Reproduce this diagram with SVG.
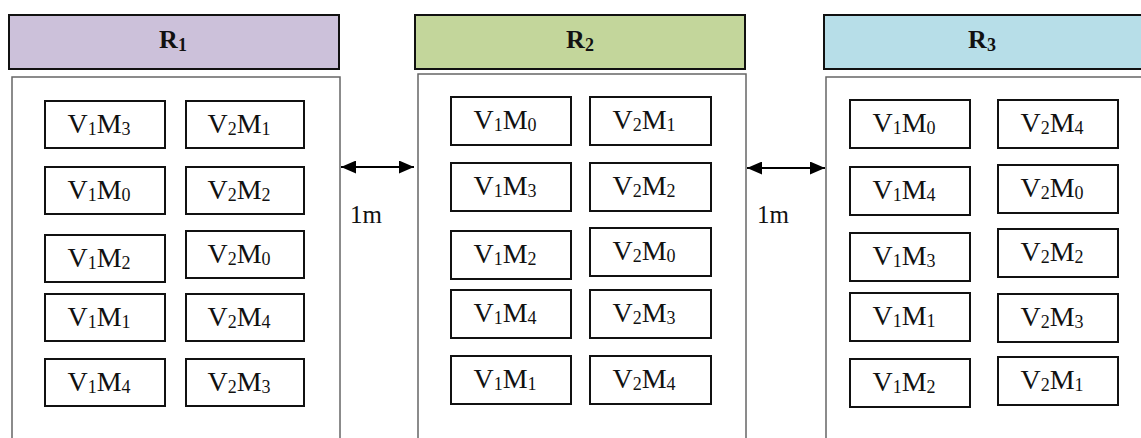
<svg xmlns="http://www.w3.org/2000/svg" width="1141" height="438" viewBox="0 0 1141 438">
<style>
.hdr{stroke:#111;stroke-width:2}
.cont{fill:#fff;stroke:#666;stroke-width:1.5}
.box{fill:#fff;stroke:#111;stroke-width:2}
.ht{font-family:"Liberation Serif",serif;font-weight:bold;font-size:26px;fill:#111;text-anchor:middle}
.bt{font-family:"Liberation Serif",serif;font-size:28px;fill:#111;text-anchor:middle}
.sub{font-size:18px}
.lbl{font-family:"Liberation Serif",serif;font-size:25px;fill:#111}
.conn{stroke:#000;stroke-width:2;fill:none}
</style>
<defs>
<marker id="ah" markerUnits="userSpaceOnUse" markerWidth="16" markerHeight="13" refX="15" refY="6.5" orient="auto-start-reverse">
<path d="M0,0 L15,6.5 L0,13 z" fill="#000"/>
</marker>
</defs>
<rect width="1141" height="438" fill="#fff"/>

<g id="R1">
<rect class="hdr" x="9" y="15" width="330" height="54" fill="#CCC1DA"/>
<text class="ht" x="173" y="48">R<tspan class="sub" dy="3">1</tspan></text>
<rect class="cont" x="12" y="77" width="328" height="380"/>
</g>
<g id="R2">
<rect class="hdr" x="415" y="15" width="330" height="54" fill="#C3D69B"/>
<text class="ht" x="580" y="48">R<tspan class="sub" dy="3">2</tspan></text>
<rect class="cont" x="418" y="74" width="328" height="380"/>
</g>
<g id="R3">
<rect class="hdr" x="824" y="15" width="330" height="54" fill="#B7DEE8"/>
<text class="ht" x="982" y="48">R<tspan class="sub" dy="3">3</tspan></text>
<rect class="cont" x="826" y="77" width="330" height="380"/>
</g>

<!-- R1 boxes -->
<g id="R1-V1M3"><rect class="box" x="45" y="101" width="120" height="47"/><text class="bt" x="99" y="133">V<tspan class="sub" dy="2">1</tspan><tspan dy="-2">M</tspan><tspan class="sub" dy="2">3</tspan></text></g>
<g id="R1-V2M1"><rect class="box" x="186" y="101" width="118" height="47"/><text class="bt" x="239" y="133">V<tspan class="sub" dy="2">2</tspan><tspan dy="-2">M</tspan><tspan class="sub" dy="2">1</tspan></text></g>
<g id="R1-V1M0"><rect class="box" x="45" y="167" width="120" height="47"/><text class="bt" x="99" y="199">V<tspan class="sub" dy="2">1</tspan><tspan dy="-2">M</tspan><tspan class="sub" dy="2">0</tspan></text></g>
<g id="R1-V2M2"><rect class="box" x="186" y="167" width="118" height="47"/><text class="bt" x="239" y="199">V<tspan class="sub" dy="2">2</tspan><tspan dy="-2">M</tspan><tspan class="sub" dy="2">2</tspan></text></g>
<g id="R1-V1M2"><rect class="box" x="45" y="235" width="120" height="47"/><text class="bt" x="99" y="267">V<tspan class="sub" dy="2">1</tspan><tspan dy="-2">M</tspan><tspan class="sub" dy="2">2</tspan></text></g>
<g id="R1-V2M0"><rect class="box" x="186" y="231" width="118" height="47"/><text class="bt" x="239" y="263">V<tspan class="sub" dy="2">2</tspan><tspan dy="-2">M</tspan><tspan class="sub" dy="2">0</tspan></text></g>
<g id="R1-V1M1"><rect class="box" x="45" y="294" width="120" height="47"/><text class="bt" x="99" y="326">V<tspan class="sub" dy="2">1</tspan><tspan dy="-2">M</tspan><tspan class="sub" dy="2">1</tspan></text></g>
<g id="R1-V2M4"><rect class="box" x="186" y="294" width="118" height="47"/><text class="bt" x="239" y="326">V<tspan class="sub" dy="2">2</tspan><tspan dy="-2">M</tspan><tspan class="sub" dy="2">4</tspan></text></g>
<g id="R1-V1M4"><rect class="box" x="45" y="359" width="120" height="47"/><text class="bt" x="99" y="391">V<tspan class="sub" dy="2">1</tspan><tspan dy="-2">M</tspan><tspan class="sub" dy="2">4</tspan></text></g>
<g id="R1-V2M3"><rect class="box" x="186" y="359" width="118" height="47"/><text class="bt" x="239" y="391">V<tspan class="sub" dy="2">2</tspan><tspan dy="-2">M</tspan><tspan class="sub" dy="2">3</tspan></text></g>

<!-- R2 boxes -->
<g id="R2-V1M0"><rect class="box" x="451" y="97" width="120" height="48"/><text class="bt" x="505" y="129">V<tspan class="sub" dy="2">1</tspan><tspan dy="-2">M</tspan><tspan class="sub" dy="2">0</tspan></text></g>
<g id="R2-V2M1"><rect class="box" x="590" y="97" width="121" height="48"/><text class="bt" x="644" y="129">V<tspan class="sub" dy="2">2</tspan><tspan dy="-2">M</tspan><tspan class="sub" dy="2">1</tspan></text></g>
<g id="R2-V1M3"><rect class="box" x="451" y="163" width="120" height="48"/><text class="bt" x="505" y="195">V<tspan class="sub" dy="2">1</tspan><tspan dy="-2">M</tspan><tspan class="sub" dy="2">3</tspan></text></g>
<g id="R2-V2M2"><rect class="box" x="590" y="163" width="121" height="48"/><text class="bt" x="644" y="195">V<tspan class="sub" dy="2">2</tspan><tspan dy="-2">M</tspan><tspan class="sub" dy="2">2</tspan></text></g>
<g id="R2-V1M2"><rect class="box" x="451" y="231" width="120" height="48"/><text class="bt" x="505" y="263">V<tspan class="sub" dy="2">1</tspan><tspan dy="-2">M</tspan><tspan class="sub" dy="2">2</tspan></text></g>
<g id="R2-V2M0"><rect class="box" x="590" y="228" width="121" height="48"/><text class="bt" x="644" y="260">V<tspan class="sub" dy="2">2</tspan><tspan dy="-2">M</tspan><tspan class="sub" dy="2">0</tspan></text></g>
<g id="R2-V1M4"><rect class="box" x="451" y="290" width="120" height="48"/><text class="bt" x="505" y="322">V<tspan class="sub" dy="2">1</tspan><tspan dy="-2">M</tspan><tspan class="sub" dy="2">4</tspan></text></g>
<g id="R2-V2M3"><rect class="box" x="590" y="290" width="121" height="48"/><text class="bt" x="644" y="322">V<tspan class="sub" dy="2">2</tspan><tspan dy="-2">M</tspan><tspan class="sub" dy="2">3</tspan></text></g>
<g id="R2-V1M1"><rect class="box" x="451" y="356" width="120" height="48"/><text class="bt" x="505" y="388">V<tspan class="sub" dy="2">1</tspan><tspan dy="-2">M</tspan><tspan class="sub" dy="2">1</tspan></text></g>
<g id="R2-V2M4"><rect class="box" x="590" y="356" width="121" height="48"/><text class="bt" x="644" y="388">V<tspan class="sub" dy="2">2</tspan><tspan dy="-2">M</tspan><tspan class="sub" dy="2">4</tspan></text></g>

<!-- R3 boxes -->
<g id="R3-V1M0"><rect class="box" x="850" y="100" width="120" height="48"/><text class="bt" x="904" y="132">V<tspan class="sub" dy="2">1</tspan><tspan dy="-2">M</tspan><tspan class="sub" dy="2">0</tspan></text></g>
<g id="R3-V2M4"><rect class="box" x="998" y="100" width="120" height="48"/><text class="bt" x="1052" y="132">V<tspan class="sub" dy="2">2</tspan><tspan dy="-2">M</tspan><tspan class="sub" dy="2">4</tspan></text></g>
<g id="R3-V1M4"><rect class="box" x="850" y="167" width="120" height="48"/><text class="bt" x="904" y="199">V<tspan class="sub" dy="2">1</tspan><tspan dy="-2">M</tspan><tspan class="sub" dy="2">4</tspan></text></g>
<g id="R3-V2M0"><rect class="box" x="998" y="165" width="120" height="48"/><text class="bt" x="1052" y="197">V<tspan class="sub" dy="2">2</tspan><tspan dy="-2">M</tspan><tspan class="sub" dy="2">0</tspan></text></g>
<g id="R3-V1M3"><rect class="box" x="850" y="233" width="120" height="48"/><text class="bt" x="904" y="265">V<tspan class="sub" dy="2">1</tspan><tspan dy="-2">M</tspan><tspan class="sub" dy="2">3</tspan></text></g>
<g id="R3-V2M2"><rect class="box" x="998" y="229" width="120" height="48"/><text class="bt" x="1052" y="261">V<tspan class="sub" dy="2">2</tspan><tspan dy="-2">M</tspan><tspan class="sub" dy="2">2</tspan></text></g>
<g id="R3-V1M1"><rect class="box" x="850" y="293" width="120" height="48"/><text class="bt" x="904" y="325">V<tspan class="sub" dy="2">1</tspan><tspan dy="-2">M</tspan><tspan class="sub" dy="2">1</tspan></text></g>
<g id="R3-V2M3"><rect class="box" x="998" y="294" width="120" height="48"/><text class="bt" x="1052" y="326">V<tspan class="sub" dy="2">2</tspan><tspan dy="-2">M</tspan><tspan class="sub" dy="2">3</tspan></text></g>
<g id="R3-V1M2"><rect class="box" x="850" y="359" width="120" height="48"/><text class="bt" x="904" y="391">V<tspan class="sub" dy="2">1</tspan><tspan dy="-2">M</tspan><tspan class="sub" dy="2">2</tspan></text></g>
<g id="R3-V2M1"><rect class="box" x="998" y="357" width="120" height="48"/><text class="bt" x="1052" y="389">V<tspan class="sub" dy="2">2</tspan><tspan dy="-2">M</tspan><tspan class="sub" dy="2">1</tspan></text></g>

<g id="connectors">
<line class="conn" x1="341" y1="167" x2="414" y2="167" marker-start="url(#ah)" marker-end="url(#ah)"/>
<text class="lbl" x="350" y="223">1m</text>
<line class="conn" x1="747" y1="168" x2="825" y2="168" marker-start="url(#ah)" marker-end="url(#ah)"/>
<text class="lbl" x="757" y="223">1m</text>
</g>
</svg>
